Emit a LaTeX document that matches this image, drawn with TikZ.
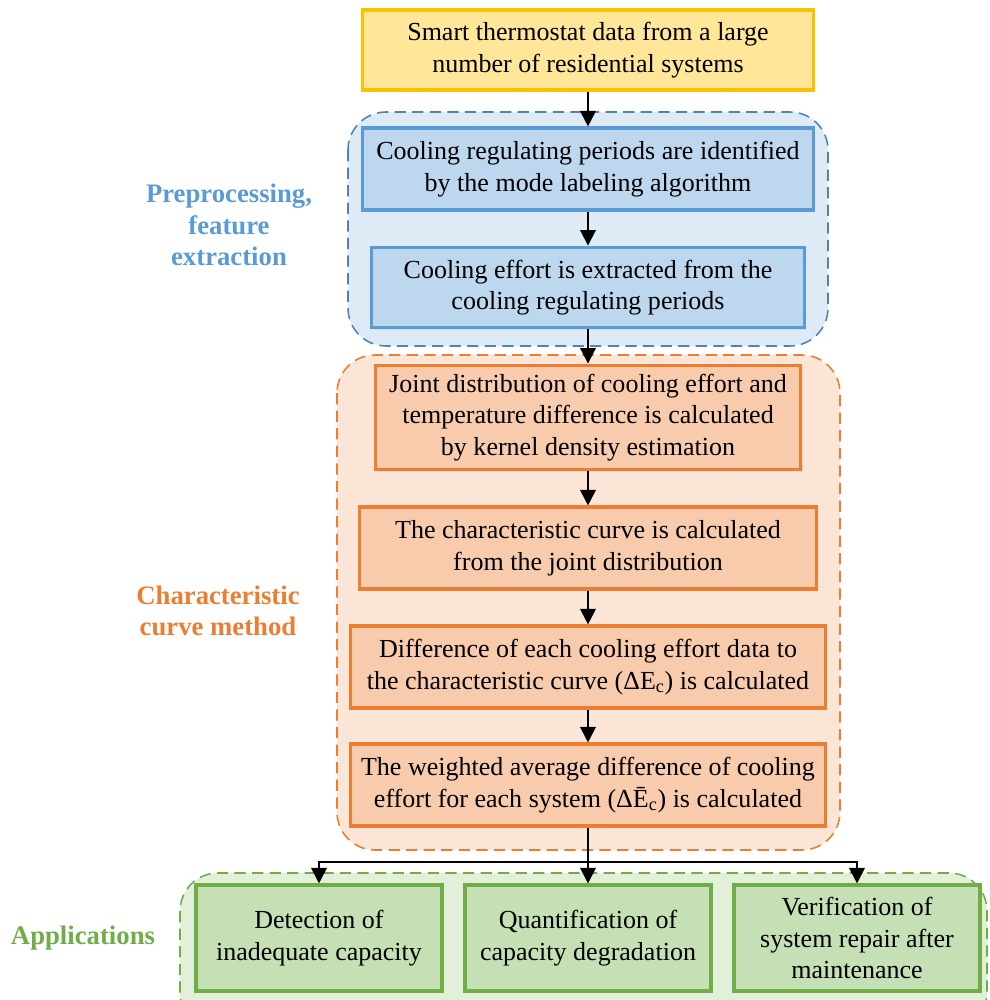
\documentclass[tikz,border=0pt]{standalone}
\usepackage{fontspec}
\setmainfont{Liberation Serif}
\usetikzlibrary{arrows.meta,shadows}

\definecolor{yelline}{HTML}{FFC000}
\definecolor{yelfill}{HTML}{FFE699}
\definecolor{blueline}{HTML}{5B9BD5}
\definecolor{bluefill}{HTML}{BDD7EE}
\definecolor{bluegroup}{HTML}{DEEBF7}
\definecolor{oraline}{HTML}{ED7D31}
\definecolor{orafill}{HTML}{F8CBAD}
\definecolor{oragroup}{HTML}{FBE5D6}
\definecolor{grnline}{HTML}{70AD47}
\definecolor{grnfill}{HTML}{C5E0B4}
\definecolor{grngroup}{HTML}{E2F0D9}

\tikzset{
  box/.style={rectangle, line width=2.2pt, align=center, inner sep=0pt,
    font=\fontsize{18.5}{22.5}\selectfont,
    drop shadow={opacity=0.15, shadow xshift=1.5pt, shadow yshift=-1.5pt}},
  group/.style={rounded corners=0.95cm, line width=1.1pt, dash pattern=on 8pt off 4.5pt},
  grouplabel/.style={align=center, font=\fontsize{19}{22.5}\selectfont\bfseries},
  arr/.style={line width=1.4pt, -{Triangle[width=11pt,length=11pt]}},
}

\begin{document}
\begin{tikzpicture}[x=0.025cm, y=-0.025cm]

    \useasboundingbox (0,0) rectangle (989,1000);

    % Dashed background groups
    \begin{scope}
        \clip (0,0) rectangle (989,1000);
        \filldraw[group, fill=bluegroup, draw=blueline!85!black] (348,112) rectangle (828,346);
        \filldraw[group, fill=oragroup, draw=oraline] (337,355) rectangle (840,850);
        \filldraw[group, fill=grngroup, draw=grnline] (180,873) rectangle (987,1030);
    \end{scope}

    % Group labels
    \node[grouplabel, text=blueline] (prelab) at (229,225) {Preprocessing,\\feature\\extraction};
    \node[grouplabel, text=oraline] (charlab) at (218,611) {Characteristic\\curve method};
    \node[grouplabel, text=grnline] (applab) at (83,938) {Applications};

    % Input data
    \node[box, fill=yelfill, draw=yelline, minimum width=11.25cm, minimum height=2cm] (data) at (588,50)
        {Smart thermostat data from a large\\number of residential systems};

    % Preprocessing steps
    \node[box, fill=bluefill, draw=blueline, minimum width=11.25cm, minimum height=2.05cm] (mode) at (588,169)
        {Cooling regulating periods are identified\\by the mode labeling algorithm};
    \node[box, fill=bluefill, draw=blueline, minimum width=10.8cm, minimum height=2.02cm] (effort) at (588,287.5)
        {Cooling effort is extracted from the\\cooling regulating periods};

    % Characteristic curve steps
    \node[box, fill=orafill, draw=oraline, minimum width=10.62cm, minimum height=2.62cm] (kde) at (588,417.5)
        {Joint distribution of cooling effort and\\temperature difference is calculated\\by kernel density estimation};
    \node[box, fill=orafill, draw=oraline, minimum width=11.4cm, minimum height=2.05cm] (curve) at (588,548)
        {The characteristic curve is calculated\\from the joint distribution};
    \node[box, fill=orafill, draw=oraline, minimum width=11.85cm, minimum height=2.05cm] (diff) at (588,667)
        {Difference of each cooling effort data to\\the characteristic curve (ΔE\textsubscript{c}) is calculated};
    \node[box, fill=orafill, draw=oraline, minimum width=11.85cm, minimum height=2.05cm] (avg) at (588,785)
        {The weighted average difference of cooling\\effort for each system (ΔĒ\textsubscript{c}) is calculated};

    % Applications
    \node[box, fill=grnfill, draw=grnline, minimum width=6.15cm, minimum height=2.65cm] (detect) at (319,938)
        {Detection of\\inadequate capacity};
    \node[box, fill=grnfill, draw=grnline, minimum width=6.15cm, minimum height=2.65cm] (quant) at (588,938)
        {Quantification of\\capacity degradation};
    \node[box, fill=grnfill, draw=grnline, minimum width=6.15cm, minimum height=2.65cm] (verify) at (857,938)
        {Verification of\\system repair after\\maintenance};

    % Arrows
    \draw[arr] (data) -- (mode);
    \draw[arr] (mode) -- (effort);
    \draw[arr] (effort) -- (kde);
    \draw[arr] (kde) -- (curve);
    \draw[arr] (curve) -- (diff);
    \draw[arr] (diff) -- (avg);

    % Split to the applications
    \coordinate (split) at (588,862);
    \draw[arr] (avg) -- (quant);
    \draw[arr] (split) -| (detect);
    \draw[arr] (split) -| (verify);

\end{tikzpicture}
\end{document}
